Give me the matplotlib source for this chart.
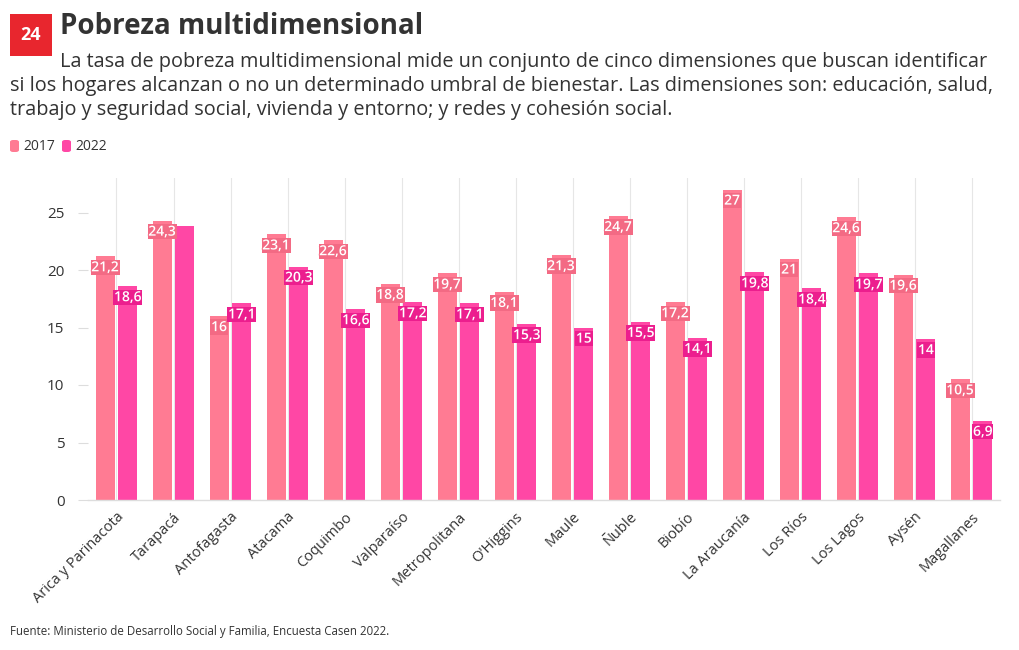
import matplotlib
matplotlib.use("Agg")
import matplotlib.pyplot as plt
import matplotlib.patheffects as pe
from matplotlib.patches import FancyBboxPatch, Rectangle
import numpy as np

plt.rcParams['font.family'] = ['Open Sans', 'DejaVu Sans']

categories = ["Arica y Parinacota", "Tarapacá", "Antofagasta", "Atacama", "Coquimbo",
              "Valparaíso", "Metropolitana", "O'Higgins", "Maule", "Ñuble", "Biobío",
              "La Araucanía", "Los Ríos", "Los Lagos", "Aysén", "Magallanes"]
v2017 = [21.2, 24.3, 16, 23.1, 22.6, 18.8, 19.7, 18.1, 21.3, 24.7, 17.2, 27, 21, 24.6, 19.6, 10.5]
v2022 = [18.6, 23.8, 17.1, 20.3, 16.6, 17.2, 17.1, 15.3, 15, 15.5, 14.1, 19.8, 18.4, 19.7, 14, 6.9]
labels2017 = ["21,2", "24,3", "16", "23,1", "22,6", "18,8", "19,7", "18,1", "21,3", "24,7",
              "17,2", "27", "21", "24,6", "19,6", "10,5"]
labels2022 = ["18,6", "", "17,1", "20,3", "16,6", "17,2", "17,1", "15,3", "15", "15,5",
              "14,1", "19,8", "18,4", "19,7", "14", "6,9"]
yticks = [0, 5, 10, 15, 20, 25]
series_names = ["2017", "2022"]

c2017 = "#FF7B93"
c2022 = "#FF47A5"
lab2017 = "#F36A84"
lab2022 = "#EC1E8E"

fig = plt.figure(figsize=(10.2, 6.5), dpi=100)
ax = fig.add_axes([88/1020, 1-500/650, 912/1020, 322/650])

x = np.arange(len(categories))
w = 0.335
off = 0.2
ax.bar(x - off, v2017, width=w, color=c2017, zorder=2)
ax.bar(x + off, v2022, width=w, color=c2022, zorder=2)

for xi, v, t in zip(x, v2017, labels2017):
    if t:
        ax.annotate(t, (xi - off, v), xytext=(0, -8), textcoords="offset points",
                    ha="center", va="center", fontsize=10, fontweight="semibold", color="white",
                    bbox=dict(boxstyle="square,pad=0.05", fc=lab2017, ec="none"),
                    path_effects=[pe.withStroke(linewidth=1.5, foreground=lab2017)], zorder=4)
for xi, v, t in zip(x, v2022, labels2022):
    if t:
        ax.annotate(t, (xi + off, v), xytext=(0, -8), textcoords="offset points",
                    ha="center", va="center", fontsize=10, fontweight="semibold", color="white",
                    bbox=dict(boxstyle="square,pad=0.05", fc=lab2022, ec="none"),
                    path_effects=[pe.withStroke(linewidth=1.5, foreground=lab2022)], zorder=4)

ax.set_xlim(-0.5, len(categories) - 0.5)
ax.set_ylim(0, 28)
ax.set_yticks(yticks)
ax.set_yticklabels([str(t) for t in yticks], fontsize=11, color="#333333")
ax.set_xticks(x)
ax.set_xticklabels(categories, rotation=45, ha="right", rotation_mode="anchor",
                   fontsize=10.5, color="#333333")
ax.tick_params(axis="x", length=0, pad=7)
ax.tick_params(axis="y", length=7, color="#dddddd", pad=10)
ax.grid(axis="x", color="#e6e6e6", linewidth=0.8, zorder=0)
for s in ["top", "right", "left"]:
    ax.spines[s].set_visible(False)
ax.spines["bottom"].set_color("#dddddd")
ax.spines["bottom"].set_linewidth(1)

# Logo
fig.patches.append(Rectangle((10/1020, 1-56/650), 42/1020, 42/650, transform=fig.transFigure,
                             facecolor="#E8262E", edgecolor="none"))
fig.text(31/1020, 1-35/650, "24", ha="center", va="center", fontsize=13, fontweight="bold",
         color="white")

fig.text(60/1020, 1-27/650, "Pobreza multidimensional", ha="left", va="center",
         fontsize=20, fontweight="bold", color="#333333")
fig.text(60/1020, 1-62/650, "La tasa de pobreza multidimensional mide un conjunto de cinco dimensiones que buscan identificar",
         ha="left", va="center", fontsize=14.35, color="#333333")
fig.text(10/1020, 1-86/650, "si los hogares alcanzan o no un determinado umbral de bienestar. Las dimensiones son: educación, salud,",
         ha="left", va="center", fontsize=14.35, color="#333333")
fig.text(10/1020, 1-110/650, "trabajo y seguridad social, vivienda y entorno; y redes y cohesión social.",
         ha="left", va="center", fontsize=14.35, color="#333333")

# Legend
for i, (nm, col, xp) in enumerate(zip(series_names, [c2017, c2022], [10, 62])):
    fig.patches.append(FancyBboxPatch((xp/1020, 1-152/650), 9/1020, 12/650,
                                      boxstyle="round,pad=0,rounding_size=0.003",
                                      transform=fig.transFigure, facecolor=col, edgecolor="none"))
    fig.text((xp + 13)/1020, 1-146/650, nm, ha="left", va="center", fontsize=10, color="#333333")

fig.text(10/1020, 1-632/650, "Fuente: Ministerio de Desarrollo Social y Familia, Encuesta Casen 2022.",
         ha="left", va="center", fontsize=8.3, color="#333333")

fig.savefig("out.png", dpi=100, facecolor="white")
